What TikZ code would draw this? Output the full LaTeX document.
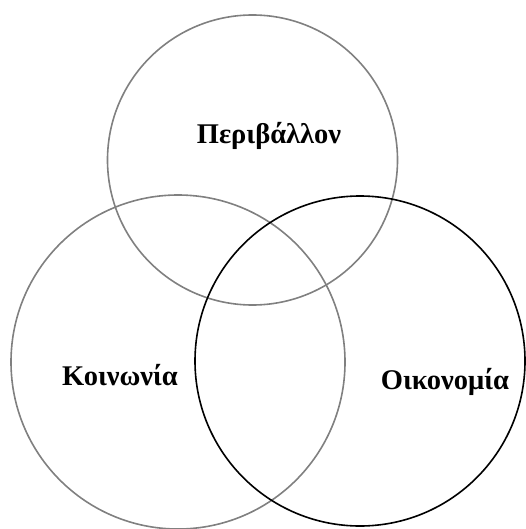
\documentclass[tikz,border=0pt]{standalone}
\usepackage{fontspec}
\setmainfont{Liberation Serif}
\usepackage{tikz}
\tikzstyle{ring} = [circle, draw=gray, line width=1.6pt, inner sep=0pt]
\tikzstyle{word} = [font=\fontsize{28.5}{32}\selectfont\bfseries, text=black]

\begin{document}
\begin{tikzpicture}[x=1pt,y=-1pt]
  \useasboundingbox (0,0) rectangle (525,529);
  \node (env) at (252.5,160) [ring, minimum size=290pt] {};
  \node (soc) at (178,362) [ring, minimum size=334pt] {};
  \node (eco) at (360,361) [ring, minimum size=330pt, draw=black] {};

  \node (envl) at (269,136) [word] {Περιβάλλον};
  \node (socl) at (120,375) [word] {Κοινωνία};
  \node (ecol) at (445,382) [word] {Οικονομία};
\end{tikzpicture}
\end{document}
